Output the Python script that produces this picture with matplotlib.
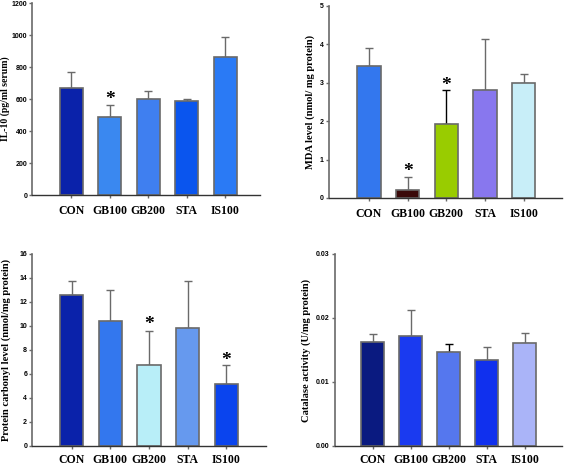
import numpy as np
import matplotlib
matplotlib.use('Agg')
import matplotlib.pyplot as plt

groups = ['CON', 'GB100', 'GB200', 'STA', 'IS100']

il10_mean = [670, 490, 597, 590, 860]
il10_err = [100, 70, 53, 10, 130]
il10_sig = ['', '*', '', '', '']

mda_mean = [3.45, 0.22, 1.92, 2.82, 3.0]
mda_err = [0.45, 0.33, 0.88, 1.33, 0.22]
mda_sig = ['', '*', '*', '', '']

pc_mean = [12.6, 10.4, 6.75, 9.85, 5.2]
pc_err = [1.15, 2.6, 2.8, 3.9, 1.55]
pc_sig = ['', '', '*', '', '*']

cat_mean = [0.0163, 0.0172, 0.0147, 0.0135, 0.0161]
cat_err = [0.0012, 0.004, 0.0012, 0.0019, 0.0016]
cat_sig = ['', '', '', '', '']

W, H = 567, 466
fig = plt.figure(figsize=(W/100, H/100), dpi=100)

def axes_px(left, right, top, bottom):
    return fig.add_axes([left/W, (H-bottom)/H, (right-left)/W, (bottom-top)/H])

grey = '#6a6a6a'

def panel(ax, means, errs, sig, colors, ecols, ylim, yticks, ytl, xlim,
          ylabel, ylab_x, ylab_size, star_y, xpad):
    x = np.arange(len(groups))
    ax.bar(x, means, width=0.6, color=colors, edgecolor=grey, linewidth=1.2, zorder=2)
    for i in range(len(x)):
        ax.errorbar(x[i], means[i], yerr=[[0], [errs[i]]], fmt='none',
                    ecolor=ecols[i], elinewidth=1.0, capsize=3, capthick=1.0, zorder=1)
        if sig[i]:
            ax.text(x[i], star_y[i], sig[i], ha='center', va='center',
                    fontsize=14, fontweight='bold', family='Liberation Serif')
    ax.set_xlim(*xlim)
    ax.set_ylim(*ylim)
    ax.set_yticks(yticks)
    ax.set_yticklabels(ytl, fontsize=5, fontweight='bold', family='Liberation Sans')
    ax.set_xticks(x)
    ax.set_xticklabels(groups, fontsize=8.5, fontweight='bold', family='Liberation Serif')
    for s in ['top', 'right']:
        ax.spines[s].set_visible(False)
    ax.spines['left'].set_color(grey)
    ax.spines['left'].set_linewidth(1.2)
    ax.spines['bottom'].set_color('#333333')
    ax.spines['bottom'].set_linewidth(1.0)
    ax.tick_params(axis='y', length=2.5, width=1, color=grey, pad=1)
    ax.tick_params(axis='x', length=2.5, width=1, color=grey, pad=xpad)
    ax.set_ylabel(ylabel, fontsize=ylab_size, fontweight='bold', family='Liberation Serif')
    ax.yaxis.set_label_coords(ylab_x, 0.5)

ax1 = axes_px(32, 260, 3, 195)
panel(ax1, il10_mean, il10_err, il10_sig,
      ['#0a22aa', '#3a88f0', '#3f7ff0', '#0a55ee', '#2a7af5'], [grey]*5,
      (0, 1200), [0, 200, 400, 600, 800, 1000, 1200],
      ['0', '200', '400', '600', '800', '1000', '1200'],
      (-1.02, 4.9), 'IL-10 (pg/ml serum)', -0.095, 7, [0, 594, 0, 0, 0], 5)

ax2 = axes_px(328.7, 562, 6, 198)
panel(ax2, mda_mean, mda_err, mda_sig,
      ['#3377ee', '#3a0a0a', '#99cc00', '#8877ee', '#c8eef8'],
      [grey, grey, 'black', grey, grey],
      (0, 5), [0, 1, 2, 3, 4, 5], ['0', '1', '2', '3', '4', '5'],
      (-1.04, 4.99), 'MDA level (nmol/ mg protein)', -0.058, 7.6, [0, 0.68, 2.92, 0, 0], 5)

ax3 = axes_px(32, 266, 253.7, 446)
panel(ax3, pc_mean, pc_err, pc_sig,
      ['#0a22aa', '#3377ee', '#b8eef8', '#6699ee', '#0a44ee'], [grey]*5,
      (0, 16), [0, 2, 4, 6, 8, 10, 12, 14, 16],
      ['0', '2', '4', '6', '8', '10', '12', '14', '16'],
      (-1.02, 5.02), 'Protein carbonyl level (nmol/mg protein)', -0.09, 7.6, [0, 0, 10.1, 0, 7.13], 3.5)

ax4 = axes_px(334.7, 562, 254, 446)
panel(ax4, cat_mean, cat_err, cat_sig,
      ['#0a1a80', '#1a3af0', '#5577ee', '#1030ee', '#aab4f8'],
      [grey, grey, 'black', grey, grey],
      (0, 0.03), [0, 0.01, 0.02, 0.03], ['0.00', '0.01', '0.02', '0.03'],
      (-1.0, 4.98), 'Catalase activity (U/mg protein)', -0.105, 7.6, [0, 0, 0, 0, 0], 3.5)

fig.savefig('out.png', dpi=100)
